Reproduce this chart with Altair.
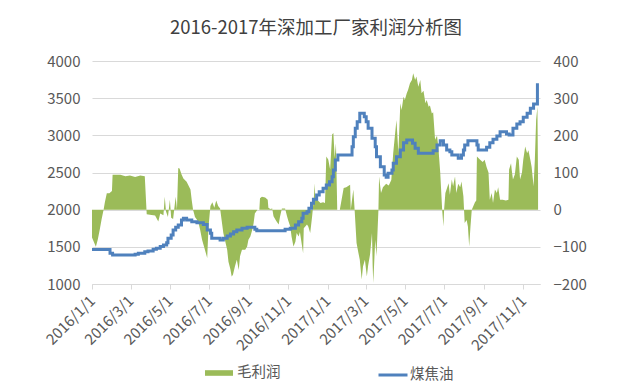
import altair as alt
import pandas as pd

# ---- data (day offsets from 2016-01-01) ----
line_day = [0, 20, 28, 32, 64, 67, 72, 80, 82, 87, 92, 95, 100, 106, 111, 116, 118, 123, 126, 130,
            134, 139, 142, 147, 153, 155, 163, 171, 173, 179, 184, 186, 197, 199, 202, 204, 210, 215,
            220, 225, 233, 241, 251, 253, 256, 297, 300, 308, 316, 321, 326, 328, 334, 337, 341, 344,
            349, 353, 359, 364, 369, 373, 375, 378, 382, 403, 404, 406, 409, 412, 416, 421, 423, 426,
            429, 435, 440, 442, 448, 454, 457, 460, 466, 468, 473, 479, 484, 489, 494, 498, 502, 507,
            525, 530, 536, 541, 546, 551, 556, 559, 567, 569, 574, 577, 579, 584, 595, 598, 600, 607,
            613, 618, 623, 629, 634, 638, 644, 648, 652, 654, 660, 665, 670, 676, 681, 686, 690, 692]
line_price = [1465, 1465, 1414, 1391, 1391, 1400, 1414, 1414, 1435, 1445, 1445, 1467, 1480, 1503, 1525,
              1556, 1615, 1660, 1727, 1763, 1794, 1861, 1884, 1861, 1861, 1838, 1825, 1825, 1800, 1727,
              1682, 1615, 1615, 1593, 1593, 1615, 1647, 1673, 1704, 1727, 1750, 1763, 1763, 1736, 1718,
              1718, 1736, 1750, 1794, 1838, 1884, 1951, 1973, 2018, 2086, 2140, 2198, 2242, 2288, 2332,
              2377, 2444, 2534, 2669, 2736, 2736, 2847, 2982, 3095, 3184, 3297, 3297, 3251, 3184, 3095,
              2960, 2847, 2713, 2578, 2467, 2436, 2489, 2534, 2624, 2713, 2803, 2901, 2937, 2937, 2892,
              2826, 2759, 2759, 2794, 2870, 2928, 2870, 2803, 2780, 2736, 2736, 2691, 2736, 2803, 2870,
              2928, 2928, 2870, 2803, 2803, 2839, 2901, 2946, 2991, 3049, 3049, 3018, 3005, 3005, 3095,
              3153, 3184, 3243, 3297, 3364, 3422, 3422, 3700]

profit_day = [0, 6, 9, 12, 15, 18, 20, 23, 27, 31, 32, 44, 52, 59, 67, 75, 82, 85, 90, 98, 103, 106,
              111, 113, 115, 118, 121, 123, 126, 130, 132, 134, 136, 139, 142, 147, 153, 155, 157, 160,
              165, 168, 171, 174, 179, 181, 184, 187, 190, 193, 196, 199, 204, 210, 212, 215, 217, 219,
              222, 225, 228, 230, 233, 238, 241, 243, 246, 249, 251, 253, 257, 260, 261, 264, 269, 273,
              274, 277, 280, 282, 286, 290, 292, 295, 300, 303, 305, 308, 310, 313, 316, 318, 321, 323,
              328, 329, 334, 336, 339, 342, 343, 345, 346, 347, 350, 355, 359, 362, 364, 367, 370, 373,
              375, 377, 379, 381, 385, 391, 395, 401, 402, 406, 408, 411, 414, 416, 419, 421, 424, 427,
              429, 432, 435, 436, 437, 440, 442, 445, 446, 449, 452, 457, 461, 465, 468, 471, 473, 476,
              479, 481, 484, 486, 489, 491, 494, 497, 499, 502, 504, 507, 510, 512, 515, 518, 520, 523,
              525, 528, 530, 533, 536, 538, 541, 544, 546, 547, 549, 554, 556, 559, 561, 564, 566, 569,
              572, 574, 577, 578, 579, 582, 584, 586, 588, 590, 592, 595, 597, 598, 603, 607, 610, 613,
              616, 618, 621, 623, 626, 629, 631, 634, 638, 643, 647, 648, 651, 652, 654, 657, 660, 663,
              665, 668, 670, 673, 676, 678, 681, 683, 686, 688, 690, 692, 693]
profit_val = [-75, -100, -80, -54, -25, 0, 20, 44, 44, 50, 94, 94, 90, 92, 88, 92, 90, -12, -14, -16,
              -32, -10, -15, 35, -5, -20, 27, -22, -25, 35, 0, 112, 111, 95, 84, 75, 54, 25, 0, -20,
              -32, -54, -81, -99, -130, -46, 10, 20, 5, 25, 10, 3, -63, -108, -140, -160, -180, -175,
              -153, -135, -162, -125, -108, -108, -99, -81, -72, -54, -37, -10, 0, 0, 31, 35, 33, 27,
              5, 2, 3, -18, -30, -40, -20, 3, 3, -18, -30, -45, -72, -99, -86, -63, -72, -60,
              -117, -50, -40, -45, -63, -18, 0, 40, 71, 26, 26, 18, 20, 18, 143, 135, 108, 202,
              206, 140, 179, 0, 0, 58, 60, 67, 0, 54, 0, -90, -117, -135, -188, -153, -135, -180,
              -150, -120, -63, -150, -197, -81, -125, 0, 89, 45, 60, 70, 65, 80, 153, 206, 241, 153,
              286, 268, 304, 295, 313, 322, 340, 349, 367, 349, 358, 331, 349, 313, 320, 286, 295, 277,
              280, 259, 262, 188, 199, 170, 100, 0, -45, 0, 45, 71, 40, 81, 63, 89, 45, 70,
              60, 76, 36, 0, -36, -28, -45, -99, -45, 0, 8, 20, 25, 143, 134, 128, 134, 115,
              100, 27, 45, 18, 54, 45, 60, 27, 27, 25, 27, 108, 125, 108, 81, 95, 143, 134,
              81, 100, 134, 170, 152, 160, 134, 115, 63, 134, 241, 277, 71]

tick_dates = ["2016-01-01", "2016-03-01", "2016-05-01", "2016-07-01", "2016-09-01", "2016-11-01",
              "2017-01-01", "2017-03-01", "2017-05-01", "2017-07-01", "2017-09-01", "2017-11-01"]
left_ticks = [1000, 1500, 2000, 2500, 3000, 3500, 4000]
right_ticks = [-200, -100, 0, 100, 200, 300, 400]

FONT = "Noto Sans CJK SC"
start = pd.Timestamp("2016-01-01")
line_df = pd.DataFrame({
    "date": (start + pd.to_timedelta(line_day, unit="D")).strftime("%Y-%m-%d"),
    "price": line_price, "series": "煤焦油"})
profit_df = pd.DataFrame({
    "date": (start + pd.to_timedelta(profit_day, unit="D")).strftime("%Y-%m-%d"),
    "profit": profit_val, "series": "毛利润"})


def dt(s):
    y, m, d = (int(v) for v in s.split("-"))
    return alt.DateTime(year=y, month=m, date=d)


x_enc = alt.X("date:T",
              scale=alt.Scale(domain=[dt("2016-01-01"), dt("2017-11-27")]),
              axis=alt.Axis(values=[dt(s) for s in tick_dates], format="%Y/%-m/%-d",
                            labelAngle=315, labelAlign="right", labelBaseline="middle",
                            labelOverlap=False, labelBound=False, labelFlush=False,
                            labelFontSize=15, labelPadding=9,
                            grid=False, tickColor="#D9D9D9", domainColor="#D9D9D9",
                            tickSize=5, title=None))

area = alt.Chart(profit_df).mark_area(interpolate="linear").encode(
    x=x_enc,
    y=alt.Y("profit:Q", scale=alt.Scale(domain=[-200, 400]),
            axis=alt.Axis(orient="right", values=right_ticks, grid=False, domain=False,
                          ticks=False, labelPadding=13, labelAlign="left", format="d",
                          title=None)),
    y2=alt.datum(0),
    fill=alt.Fill("series:N", scale=alt.Scale(domain=["毛利润"], range=["#9BBB59"]),
                  legend=alt.Legend(orient="none", legendX=113, legendY=298, title=None,
                                    symbolType="M-1,-0.2L1,-0.2L1,0.2L-1,0.2Z",
                                    symbolSize=784, symbolStrokeWidth=0, labelOffset=4)),
)

line = alt.Chart(line_df).mark_line(interpolate="step-after", strokeWidth=3).encode(
    x=x_enc,
    y=alt.Y("price:Q", scale=alt.Scale(domain=[1000, 4000]),
            axis=alt.Axis(orient="left", values=left_ticks, grid=True, gridColor="#D9D9D9",
                          domain=False, ticks=False, labelPadding=12, format="d",
                          title=None)),
    stroke=alt.Stroke("series:N", scale=alt.Scale(domain=["煤焦油"], range=["#4F81BD"]),
                      legend=alt.Legend(orient="none", legendX=285, legendY=298, title=None,
                                        symbolType="stroke", symbolSize=841,
                                        symbolStrokeWidth=3, labelOffset=1)),
)

chart = alt.layer(area, line).resolve_scale(y="independent").properties(
    width=448, height=223,
    autosize=alt.AutoSizeParams(type="none"),
    padding={"left": 84, "top": 53, "right": 92, "bottom": 100},
    title=alt.Title("2016-2017年深加工厂家利润分析图", font=FONT, fontSize=18.5,
                    fontWeight="normal", color="#404040", offset=17, anchor="middle"),
).configure_view(stroke=None).configure_axis(
    labelFont=FONT, labelFontSize=15, labelColor="#595959"
).configure_legend(labelFont=FONT, labelFontSize=14.5, labelColor="#595959")

chart.save("out.html", embed_options={"renderer": "svg", "actions": False})
